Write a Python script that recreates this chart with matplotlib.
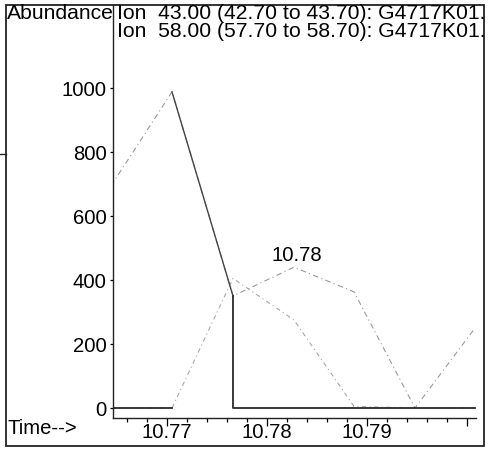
import numpy as np
import matplotlib
matplotlib.use('Agg')
import matplotlib.pyplot as plt
from matplotlib.patches import Rectangle
from matplotlib.lines import Line2D

plt.rcParams['font.family'] = ['Liberation Sans', 'DejaVu Sans']

# scan times (min) and abundances
times = [10.7644, 10.7705, 10.7766, 10.7827, 10.7887, 10.7948, 10.8008]
ion43 = [694, 988, 350, 440, 363, 0, 250]
ion58 = [0, 0, 405, 275, 5, 0, 0]

# dark outline of the integrated peak (drop to baseline)
drop_t = [10.7766, 10.7766, 10.8008]
drop_v = [350, 0, 0]

peak_rt = '10.78'
peak_pos = (10.7830, 478)

header = ['Ion  43.00 (42.70 to 43.70): G4717K01.',
          'Ion  58.00 (57.70 to 58.70): G4717K01.']
xmajor = [10.77, 10.78, 10.79, 10.80]
xlabels = ['10.77', '10.78', '10.79', '']
yticks = [0, 200, 400, 600, 800, 1000]

W, H = 493, 450
fs = 14.6
fs_head = 15.2

fig = plt.figure(figsize=(W / 100, H / 100), dpi=100)
ax = fig.add_axes([113 / W, (H - 418) / H, (476 - 113) / W, (418 - 5) / H])

ax.plot(times, ion43, color='#9a9a9a', lw=0.8, ls=(0, (5, 3, 1, 3)))
ax.plot(times, ion58, color='#a8a8a8', lw=0.8, ls=(0, (4, 3, 1, 3)))
ax.plot(times[1:3], ion43[1:3], color='#444444', lw=1.0)
ax.plot(times[:2], ion58[:2], color='#2a2a2a', lw=1.3)
ax.plot(drop_t, drop_v, color='#2a2a2a', lw=1.3)

ax.text(peak_pos[0], peak_pos[1], peak_rt, fontsize=fs, ha='center', va='center')

ax.set_xlim(10.7646, 10.8009)
ax.set_ylim(-31.25, 1259.4)

ax.set_xticks(xmajor)
ax.set_xticklabels(xlabels)
ax.set_xticks(np.arange(10.766, 10.8001, 0.002), minor=True)
ax.set_yticks(yticks)

ax.tick_params(axis='x', which='major', direction='out', length=6, width=0.9, pad=-2.5, labelsize=fs)
ax.tick_params(axis='x', which='minor', direction='out', length=3, width=0.9)
ax.tick_params(axis='y', which='major', direction='out', length=2.5, width=0.9, pad=2, labelsize=fs)

for s in ['top', 'right']:
    ax.spines[s].set_visible(False)
for s in ['left', 'bottom']:
    ax.spines[s].set_linewidth(1.0)
    ax.spines[s].set_color('#222222')

# outer frame and header texts
fig.add_artist(Rectangle((6 / W, (H - 446) / H), (484 - 6) / W, (446 - 5) / H,
                         transform=fig.transFigure, fill=False, lw=1.3, ec='#222222'))
fig.add_artist(Line2D([0, 6 / W], [(H - 154) / H] * 2, transform=fig.transFigure,
                      lw=1.0, color='#222222'))

fig.text(7 / W, (H - 19) / H, 'Abundance', fontsize=fs_head, va='baseline', ha='left')
fig.text(117 / W, (H - 19) / H, header[0], fontsize=fs_head, va='baseline', ha='left')
fig.text(117 / W, (H - 37) / H, header[1], fontsize=fs_head, va='baseline', ha='left')
fig.text(8 / W, (H - 428.5) / H, 'Time-->', fontsize=fs, va='center', ha='left')

fig.savefig('out.png', dpi=100)
